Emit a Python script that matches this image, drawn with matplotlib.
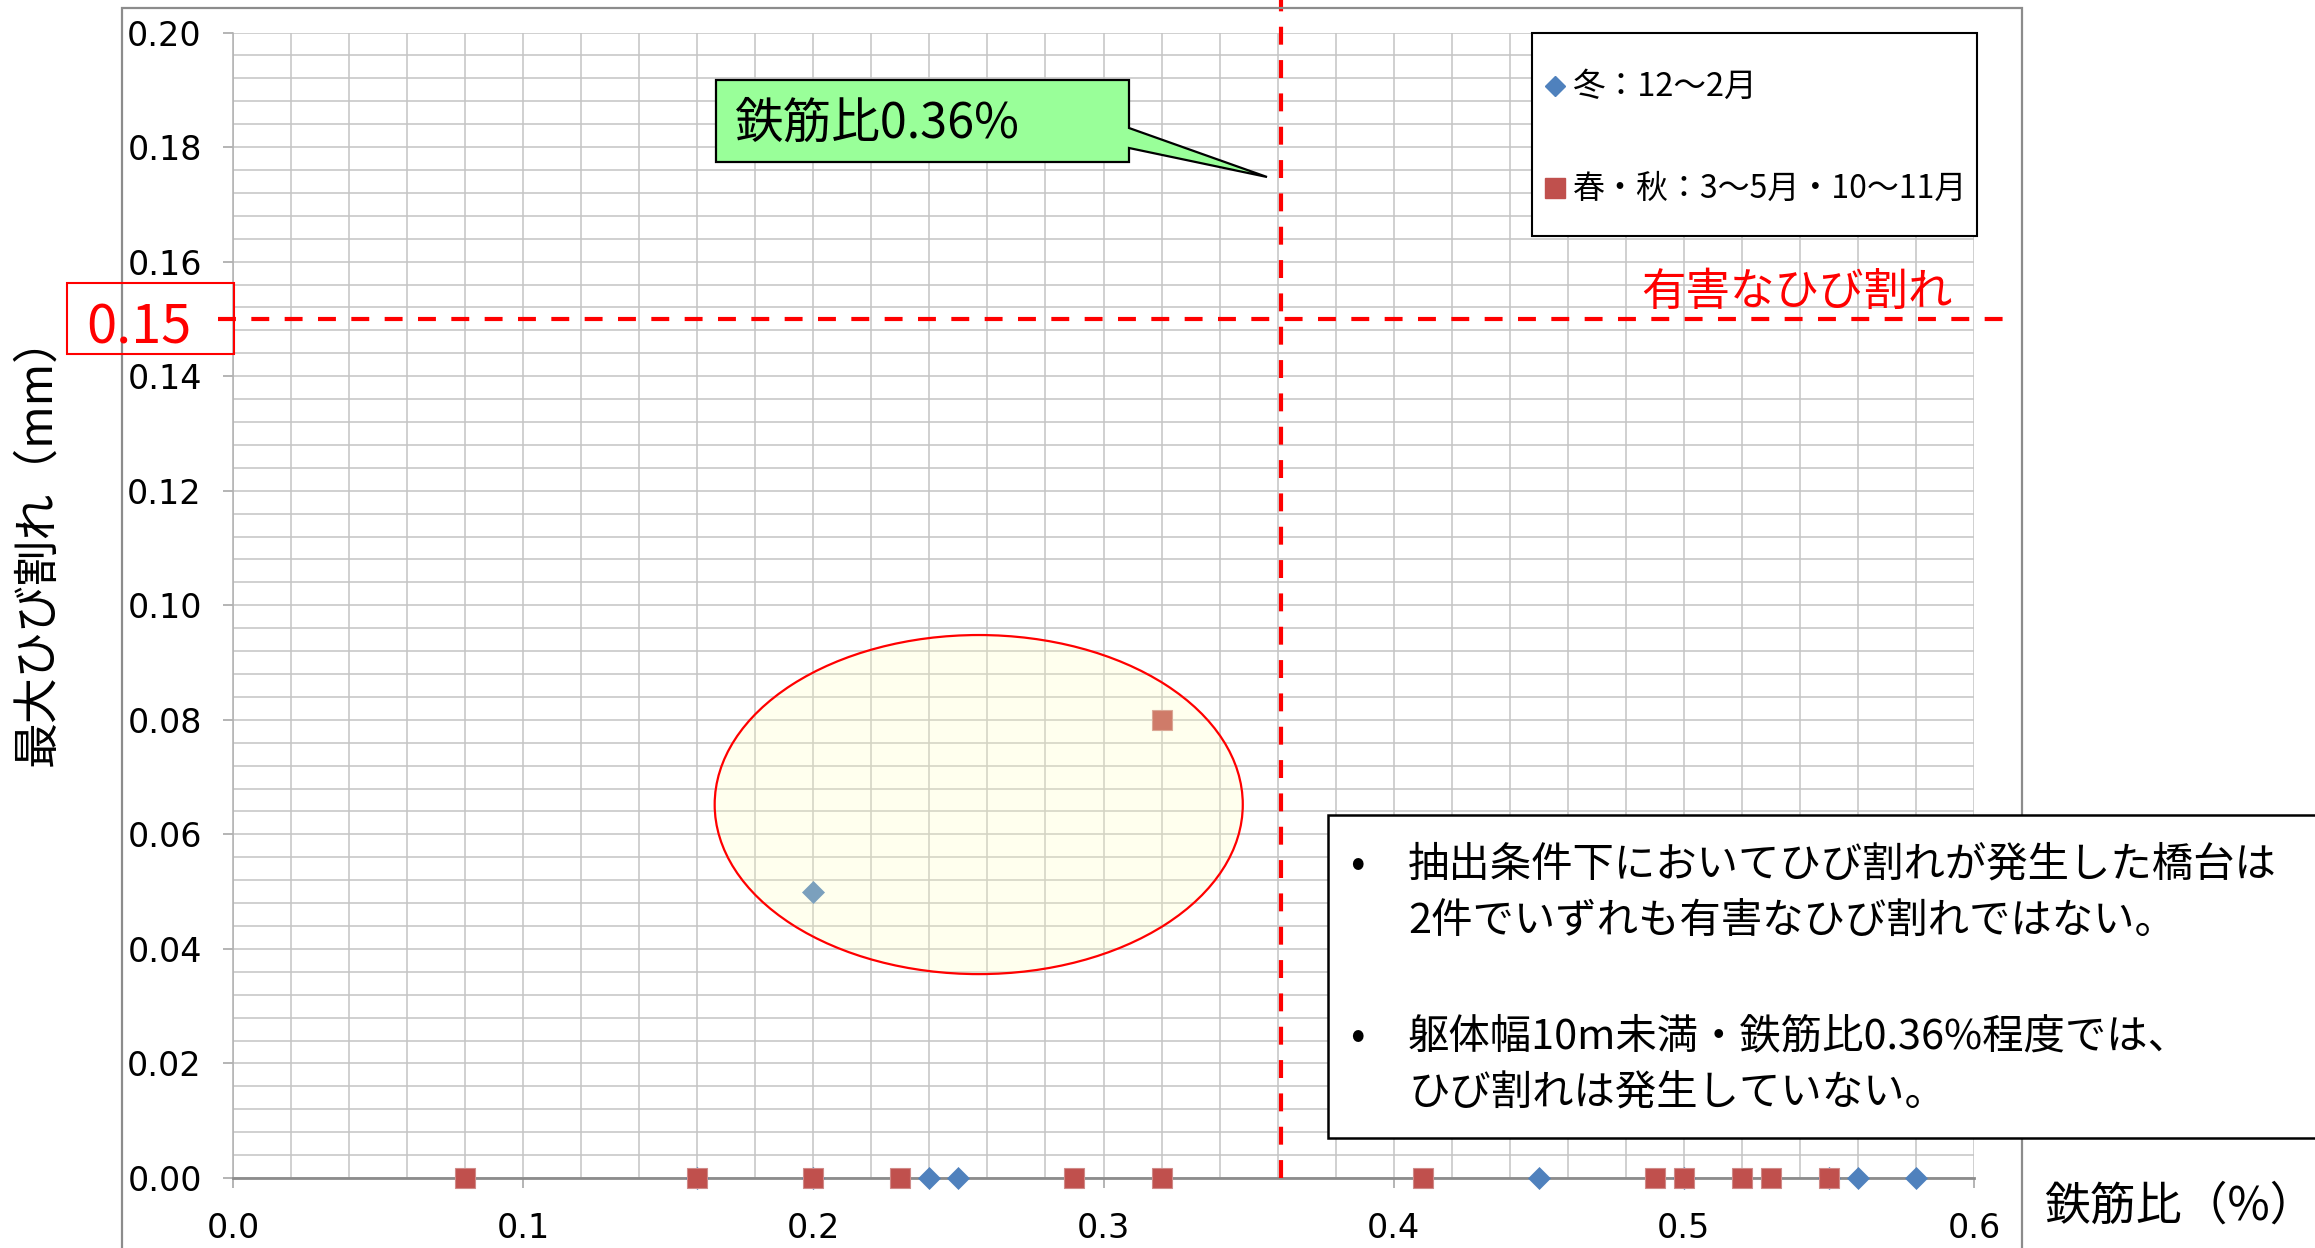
import matplotlib.pyplot as plt
from matplotlib.patches import Ellipse, Rectangle, Polygon
from matplotlib.lines import Line2D
from matplotlib.ticker import MultipleLocator, FormatStrFormatter

plt.rcParams['font.family'] = ['Noto Sans CJK JP', 'DejaVu Sans']

# data (鉄筋比 %, 最大ひび割れ mm)
winter_x = [0.16, 0.20, 0.24, 0.25, 0.45, 0.50, 0.55, 0.56, 0.58, 0.20]
winter_y = [0.00, 0.00, 0.00, 0.00, 0.00, 0.00, 0.00, 0.00, 0.00, 0.05]
spring_x = [0.08, 0.16, 0.20, 0.23, 0.29, 0.32, 0.41, 0.49, 0.50, 0.52, 0.53, 0.55, 0.32]
spring_y = [0.00, 0.00, 0.00, 0.00, 0.00, 0.00, 0.00, 0.00, 0.00, 0.00, 0.00, 0.00, 0.08]
winter_label = '冬：12～2月'
spring_label = '春・秋：3～5月・10～11月'

rebar_line = 0.361      # 鉄筋比0.36%
crack_line = 0.15       # 有害なひび割れ
circle_center = (0.257, 0.0652)
circle_size = (0.182, 0.0592)

W, H = 2315, 1248
fig = plt.figure(figsize=(W / 100, H / 100), dpi=100)


def fx(x):
    return x / W


def fy(y):
    return 1 - y / H


ax = fig.add_axes([fx(233), fy(1178), (1974 - 233) / W, (1178 - 32.5) / H])
ax.set_xlim(0, 0.6)
ax.set_ylim(0, 0.2)

ax.xaxis.set_major_locator(MultipleLocator(0.1))
ax.xaxis.set_minor_locator(MultipleLocator(0.02))
ax.yaxis.set_major_locator(MultipleLocator(0.02))
ax.yaxis.set_minor_locator(MultipleLocator(0.004))
ax.xaxis.set_major_formatter(FormatStrFormatter('%.1f'))
ax.yaxis.set_major_formatter(FormatStrFormatter('%.2f'))
ax.grid(which='both', color='#C4C4C4', lw=1.1, zorder=0)
ax.set_axisbelow(True)
ax.tick_params(which='major', length=7.5, width=1.1, color='#A0A0A0', labelsize=24)
ax.tick_params(axis='y', pad=15)
ax.tick_params(axis='x', pad=17)
ax.tick_params(which='minor', length=0)
for lab in ax.get_xticklabels() + ax.get_yticklabels():
    lab.set_family('DejaVu Sans')
for s in ['top', 'right']:
    ax.spines[s].set_visible(False)
ax.spines['left'].set_color('#B0B0B0')
ax.spines['left'].set_linewidth(1.1)
ax.spines['bottom'].set_color('#8C8C8C')
ax.spines['bottom'].set_linewidth(2)

ax.plot(winter_x, winter_y, 'D', color='#4F81BD', ms=11.5, mew=0.5, mec='#4F81BD',
        clip_on=False, zorder=3, label=winter_label)
ax.plot(spring_x, spring_y, 's', color='#C0504D', ms=14.5, mew=0.8, mec='#D08A88',
        clip_on=False, zorder=3, label=spring_label)

ax.add_patch(Ellipse(circle_center, circle_size[0], circle_size[1],
                     fc=(1, 1, 0.75, 0.25), ec='#FF0000', lw=1.6, zorder=4))

# reference lines
ax.plot([-0.0052, 0.613], [crack_line, crack_line], color='#FF0000', lw=3,
        dashes=(4.3, 3.7), clip_on=False, zorder=5)
ax.plot([rebar_line, rebar_line], [0, 0.2057], color='#FF0000', lw=3,
        dashes=(4.3, 3.7), clip_on=False, zorder=5)

# chart area frame
fig.patches.append(Rectangle((fx(122), fy(1300)), (2022 - 122) / W, (1300 - 8) / H,
                             transform=fig.transFigure, fill=False, ec='#8C8C8C', lw=1.6, zorder=1))

# legend box
fig.patches.append(Rectangle((fx(1532), fy(236)), (1977 - 1532) / W, (236 - 33) / H,
                             transform=fig.transFigure, fc='white', ec='black', lw=1.5, zorder=6))
fig.add_artist(Line2D([fx(1555)], [fy(86)], marker='D', color='#4F81BD', ms=10,
                      transform=fig.transFigure, zorder=7))
fig.add_artist(Line2D([fx(1555)], [fy(188)], marker='s', color='#C0504D', ms=14,
                      transform=fig.transFigure, zorder=7))
fig.text(fx(1573), fy(87), winter_label, fontsize=23.5, va='center', ha='left', zorder=7)
fig.text(fx(1573), fy(189), spring_label, fontsize=23, va='center', ha='left', zorder=7)

# callout 鉄筋比0.36%
call = [(716, 80), (1129, 80), (1129, 128), (1267, 177), (1129, 148), (1129, 162), (716, 162)]
fig.patches.append(Polygon([(fx(a), fy(b)) for a, b in call], closed=True, transform=fig.transFigure,
                           fc='#99FF99', ec='black', lw=1.6, zorder=6))
fig.text(fx(735), fy(124), '鉄筋比0.36%', fontsize=35, va='center', ha='left', zorder=7)

# 0.15 mark
fig.patches.append(Rectangle((fx(67), fy(354)), (234 - 67) / W, (354 - 283) / H,
                             transform=fig.transFigure, fill=False, ec='#FF0000', lw=1.5, zorder=6))
fig.text(fx(139), fy(344), '0.15', fontsize=39, color='#FF0000', ha='center', va='baseline', zorder=7)
fig.text(fx(1953), fy(292), '有害なひび割れ', fontsize=32, color='#FF0000', ha='right', va='center', zorder=7)

# axis titles
fig.text(fx(37), fy(540), '最大ひび割れ（mm）', fontsize=33, rotation=90, ha='center', va='center')
fig.text(fx(2044), fy(1206), '鉄筋比（%）', fontsize=33, ha='left', va='center')

# note box
fig.patches.append(Rectangle((fx(1328), fy(1138)), (2500 - 1328) / W, (1138 - 815) / H,
                             transform=fig.transFigure, fc='white', ec='black', lw=1.8, zorder=8))
note_lines = ['抽出条件下においてひび割れが発生した橋台は',
              '2件でいずれも有害なひび割れではない。',
              '躯体幅10m未満・鉄筋比0.36%程度では、',
              'ひび割れは発生していない。']
note_y = [865, 922, 1037, 1093]
for t, y in zip(note_lines, note_y):
    fig.text(fx(1408), fy(y), t, fontsize=29.8, ha='left', va='center', zorder=9)
for y in [865, 1037]:
    fig.text(fx(1357), fy(y), '•', fontsize=31, ha='center', va='center', zorder=9)

fig.savefig('out.png', dpi=100)
